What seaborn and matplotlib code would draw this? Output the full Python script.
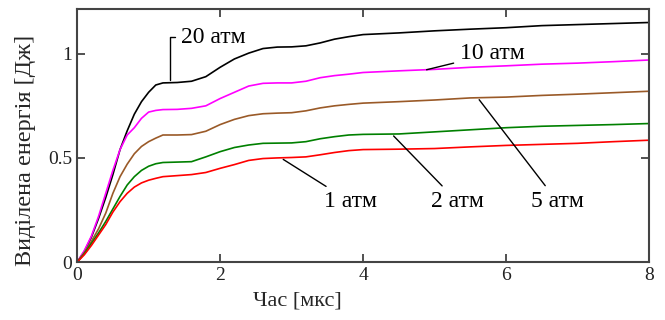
import matplotlib
matplotlib.use("Agg")
import matplotlib.pyplot as plt
import seaborn as sns
import pandas as pd

time_us = [0, 0.1, 0.2, 0.3, 0.4, 0.5, 0.6, 0.7, 0.8, 0.9, 1.0, 1.1, 1.2, 1.4, 1.6, 1.8,
           2.0, 2.2, 2.4, 2.6, 2.8, 3.0, 3.2, 3.4, 3.6, 3.8, 4.0, 4.5, 5.0, 5.5, 6.0, 6.5,
           7.0, 7.5, 8.0]
e_20 = [0, 0.05, 0.12, 0.21, 0.31, 0.42, 0.54, 0.63, 0.71, 0.77, 0.815, 0.85, 0.86, 0.862,
        0.868, 0.89, 0.935, 0.975, 1.003, 1.025, 1.032, 1.033, 1.038, 1.052, 1.07, 1.082,
        1.092, 1.10, 1.11, 1.118, 1.125, 1.135, 1.14, 1.145, 1.15]
e_10 = [0, 0.055, 0.125, 0.22, 0.33, 0.44, 0.54, 0.61, 0.645, 0.69, 0.72, 0.728, 0.732, 0.733,
        0.738, 0.75, 0.785, 0.815, 0.845, 0.858, 0.86, 0.86, 0.868, 0.885, 0.895, 0.902,
        0.91, 0.918, 0.925, 0.935, 0.942, 0.95, 0.955, 0.962, 0.97]
e_5 = [0, 0.045, 0.10, 0.16, 0.235, 0.33, 0.41, 0.47, 0.52, 0.555, 0.578, 0.595, 0.61, 0.61,
       0.612, 0.628, 0.66, 0.685, 0.703, 0.712, 0.715, 0.717, 0.726, 0.74, 0.75, 0.757,
       0.763, 0.77, 0.778, 0.788, 0.792, 0.80, 0.806, 0.813, 0.82]
e_2 = [0, 0.04, 0.09, 0.14, 0.195, 0.255, 0.315, 0.37, 0.41, 0.44, 0.46, 0.472, 0.478, 0.48,
       0.482, 0.505, 0.53, 0.55, 0.562, 0.57, 0.571, 0.572, 0.578, 0.592, 0.602, 0.61,
       0.613, 0.615, 0.625, 0.635, 0.645, 0.652, 0.656, 0.66, 0.665]
e_1 = [0, 0.035, 0.08, 0.13, 0.18, 0.24, 0.29, 0.33, 0.36, 0.38, 0.393, 0.402, 0.41, 0.415,
       0.42, 0.43, 0.45, 0.468, 0.488, 0.497, 0.50, 0.502, 0.505, 0.515, 0.526, 0.535,
       0.54, 0.542, 0.545, 0.553, 0.56, 0.565, 0.57, 0.578, 0.585]
labels = ["20 атм", "10 атм", "5 атм", "2 атм", "1 атм"]
colors = ["#000000", "#ff00ff", "#9a5a28", "#008000", "#ff0000"]

rows = []
for lab, vals in zip(labels, [e_20, e_10, e_5, e_2, e_1]):
    for t, v in zip(time_us, vals):
        rows.append({"t": t, "E": v, "p": lab})
df = pd.DataFrame(rows)

sns.set_theme(style="ticks")
plt.rcParams["font.family"] = ["Liberation Serif", "DejaVu Serif"]

fig = plt.figure(figsize=(6.65, 3.2), dpi=100)
ax = fig.add_axes([0.116, 0.181, 0.86, 0.791])
sns.lineplot(data=df, x="t", y="E", hue="p", palette=dict(zip(labels, colors)),
             linewidth=1.2, legend=False, ax=ax)

ax.set_xlim(0, 8)
ax.set_ylim(0, 1.215)
ax.set_xticks([0, 2, 4, 6, 8])
ax.set_yticks([0, 0.5, 1])
ax.set_yticklabels(["0", "0.5", "1"])
ax.tick_params(direction="in", length=6, width=1.2, top=True, right=True,
               labelsize=14, colors="#333333", labelcolor="#222222")
for s in ax.spines.values():
    s.set_linewidth(1.5)
    s.set_color("#444444")
ax.set_xlabel("Час [мкс]", fontsize=16, labelpad=1)
ax.xaxis.set_label_coords(0.385, -0.115)
ax.set_ylabel("Виділена енергія [Дж]", fontsize=17.5, labelpad=5)
ax.yaxis.set_label_coords(-0.072, 0.44)

ann = dict(fontsize=17, color="black")
arrow = dict(arrowstyle="-", color="black", lw=1.0)
ax.annotate("20 атм", xy=(1.30, 0.86), xytext=(1.45, 1.08), ha="left", va="center",
            arrowprops=dict(arrowstyle="-", color="black", lw=1.0,
                            connectionstyle="angle,angleA=0,angleB=90,rad=0"), **ann)
ax.annotate("10 атм", xy=(4.85, 0.92), xytext=(5.35, 1.0), ha="left", va="center", arrowprops=arrow, **ann)
ax.annotate("5 атм", xy=(5.6, 0.79), xytext=(6.35, 0.29), ha="left", va="center", arrowprops=arrow, **ann)
ax.annotate("2 атм", xy=(4.4, 0.615), xytext=(4.95, 0.29), ha="left", va="center", arrowprops=arrow, **ann)
ax.annotate("1 атм", xy=(2.85, 0.50), xytext=(3.45, 0.29), ha="left", va="center", arrowprops=arrow, **ann)

fig.savefig("out.png", dpi=100)
